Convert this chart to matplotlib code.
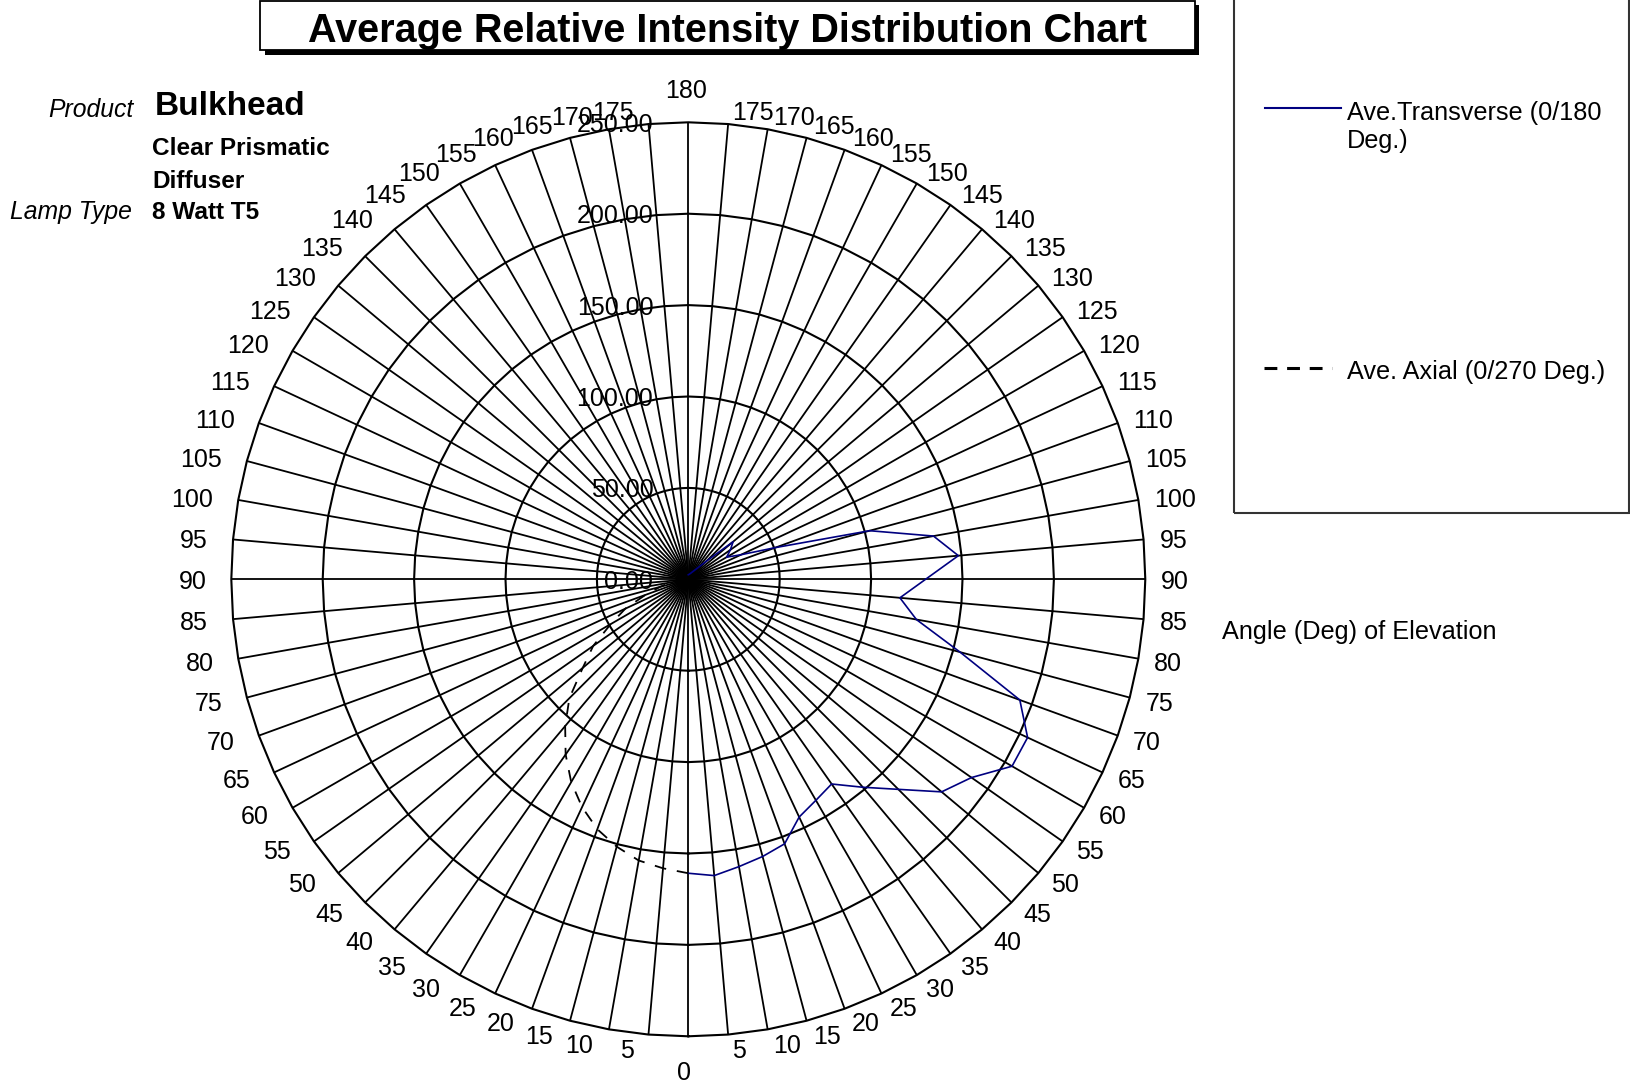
import numpy as np
import matplotlib
matplotlib.use("Agg")
import matplotlib.pyplot as plt
from matplotlib.patches import Rectangle
from matplotlib.lines import Line2D

plt.rcParams['font.family'] = ['Liberation Sans', 'DejaVu Sans']

W, H = 1630, 1082

# ---- data ----
angles = [0, 5, 10, 15, 20, 25, 30, 35, 40, 45, 50, 55, 60, 65, 70, 75, 80, 85, 90,
          95, 100, 105, 110, 115, 120, 125, 130, 135, 140, 145, 150, 155, 160, 165,
          170, 175, 180]
transverse = [160.8, 162.7, 159.6, 157.0, 154.0, 143.5, 139.6, 136.7, 148.5, 162.5,
              180.9, 189.1, 204.5, 204.8, 193.0, 153.9, 126.7, 116.2, 129.8, 148.3,
              136.2, 102.7, 50.7, 31.8, 24.2, 28.1, 32.0, 14.1, 8.5, 6.1, 4.8, 4.0,
              3.4, 3.1, 2.8, 2.6, 2.5]
axial = [160.8, 158.7, 156.2, 151.4, 145.5, 137.5, 128.1, 117.0, 104.8, 92.0,
         75.4, 63.5, 49.0, 38.0, 25.0, 16.0, 10.0, 7.0, 5.5, 4.8,
         4.3, 4.0, 3.7, 3.5, 3.3, 3.1, 3.0, 2.9, 2.8, 2.7, 2.6, 2.6,
         2.5, 2.5, 2.5, 2.5, 2.5]
ring_values = [0, 50, 100, 150, 200, 250]
ring_labels = ['0.00', '50.00', '100.00', '150.00', '200.00', '250.00']
spoke_step = 5
rmax = 250

title = 'Average Relative Intensity Distribution Chart'
series_names = ['Ave.Transverse (0/180\nDeg.)', 'Ave. Axial (0/270 Deg.)']


def fx(x):
    return x / W


def fy(y):
    return 1 - y / H


fig = plt.figure(figsize=(W / 100, H / 100), dpi=100)
fig.patch.set_facecolor('white')

# polar axes positioned so that centre is at (688.3, 579.3) px and R = 457 px
cx, cy, R = 688.3, 579.3, 457
ax = fig.add_axes([fx(cx - R), fy(cy + R), 2 * R / W, 2 * R / H], projection='polar')
ax.set_theta_zero_location('S')
ax.set_theta_direction(1)
ax.set_ylim(0, rmax)
ax.axis('off')

# spokes
spoke_deg = np.arange(0, 360, spoke_step)
for t in spoke_deg:
    ax.plot([np.deg2rad(t)] * 2, [0, rmax], color='black', lw=1.3, clip_on=False,
            solid_capstyle='butt')
# polygonal rings
ring_th = np.deg2rad(np.append(spoke_deg, 360))
for r in ring_values[1:]:
    ax.plot(ring_th, np.full(ring_th.shape, r), color='black', lw=1.5, clip_on=False)

# data series
ang = np.array(angles, dtype=float)
ax.plot(np.deg2rad(ang), transverse, color='#000080', lw=1.2, clip_on=False,
        zorder=5)
ax.plot(np.deg2rad(-ang), axial, color='black', lw=1.3, dashes=(6.5, 6),
        clip_on=False, zorder=5)

# radial labels
for r, lab in zip(ring_values, ring_labels):
    ax.annotate(lab, xy=(np.pi, r), xytext=(-35, 0), textcoords='offset pixels',
                ha='right', va='center_baseline', fontsize=18, color='black',
                annotation_clip=False, zorder=6)

# angle labels
lab_fs = 18
for a in angles:
    s = np.sin(np.deg2rad(a))
    c = np.cos(np.deg2rad(a))
    if a == 0:
        ax.annotate('0', xy=(0, rmax), xytext=(-4, -34), textcoords='offset pixels',
                    ha='center', va='center_baseline', fontsize=lab_fs,
                    annotation_clip=False)
        continue
    if a == 180:
        ax.annotate('180', xy=(np.pi, rmax), xytext=(-2, 34), textcoords='offset pixels',
                    ha='center', va='center_baseline', fontsize=lab_fs,
                    annotation_clip=False)
        continue
    # right side
    ax.annotate(str(a), xy=(np.deg2rad(a), rmax), xytext=(3 + 13 * s, -14 * c),
                textcoords='offset pixels', ha='left', va='center_baseline',
                fontsize=lab_fs, annotation_clip=False)
    # left side
    ax.annotate(str(a), xy=(np.deg2rad(-a), rmax), xytext=(-(14 + 11 * s), -14 * c),
                textcoords='offset pixels', ha='right', va='center_baseline',
                fontsize=lab_fs, annotation_clip=False)

# title box with shadow
fig.add_artist(Rectangle((fx(265), fy(55)), (1199 - 265) / W, (55 - 5) / H,
                         transform=fig.transFigure, facecolor='black',
                         edgecolor='black', lw=0))
fig.add_artist(Rectangle((fx(260), fy(50)), (1195 - 260) / W, (50 - 0.5) / H,
                         transform=fig.transFigure, facecolor='white',
                         edgecolor='black', lw=1.3))
fig.text(fx(727), fy(27), title, ha='center', va='center_baseline',
         fontsize=28.5, fontweight='bold')

# product info
fig.text(fx(133), fy(107.5), 'Product', ha='right', va='center_baseline',
         fontsize=17.8, style='italic')
fig.text(fx(155), fy(103.3), 'Bulkhead', ha='left', va='center_baseline',
         fontsize=24, fontweight='bold')
fig.text(fx(152.3), fy(145.7), 'Clear Prismatic', ha='left', va='center_baseline',
         fontsize=17.6, fontweight='bold')
fig.text(fx(152.3), fy(179), 'Diffuser', ha='left', va='center_baseline',
         fontsize=17.6, fontweight='bold')
fig.text(fx(132.3), fy(209.7), 'Lamp Type', ha='right', va='center_baseline',
         fontsize=17.8, style='italic')
fig.text(fx(152.3), fy(209.7), '8 Watt T5', ha='left', va='center_baseline',
         fontsize=17.6, fontweight='bold')

# legend box
fig.add_artist(Rectangle((fx(1234), fy(513)), (1629.3 - 1234) / W, (513 + 5) / H,
                         transform=fig.transFigure, facecolor='none',
                         edgecolor='#333333', lw=1.5))
fig.add_artist(Line2D([fx(1265), fx(1340.7)], [fy(108.3), fy(108.3)],
                      transform=fig.transFigure, color='#000080', lw=1.5))
fig.text(fx(1346.7), fy(110.3), series_names[0].split('\n')[0], ha='left',
         va='center_baseline', fontsize=18.2)
fig.text(fx(1346.7), fy(138), series_names[0].split('\n')[1], ha='left',
         va='center_baseline', fontsize=18.2)
fig.add_artist(Line2D([fx(1264), fx(1331.7)], [fy(368.3), fy(368.3)],
                      transform=fig.transFigure, color='black', lw=2.2,
                      dashes=(4.2, 3.2)))
fig.text(fx(1346.7), fy(370), series_names[1], ha='left',
         va='center_baseline', fontsize=18.2)

fig.text(fx(1222.5), fy(630), 'Angle (Deg) of Elevation', ha='left',
         va='center_baseline', fontsize=18.2)

fig.savefig('out.png', dpi=100, facecolor='white')
